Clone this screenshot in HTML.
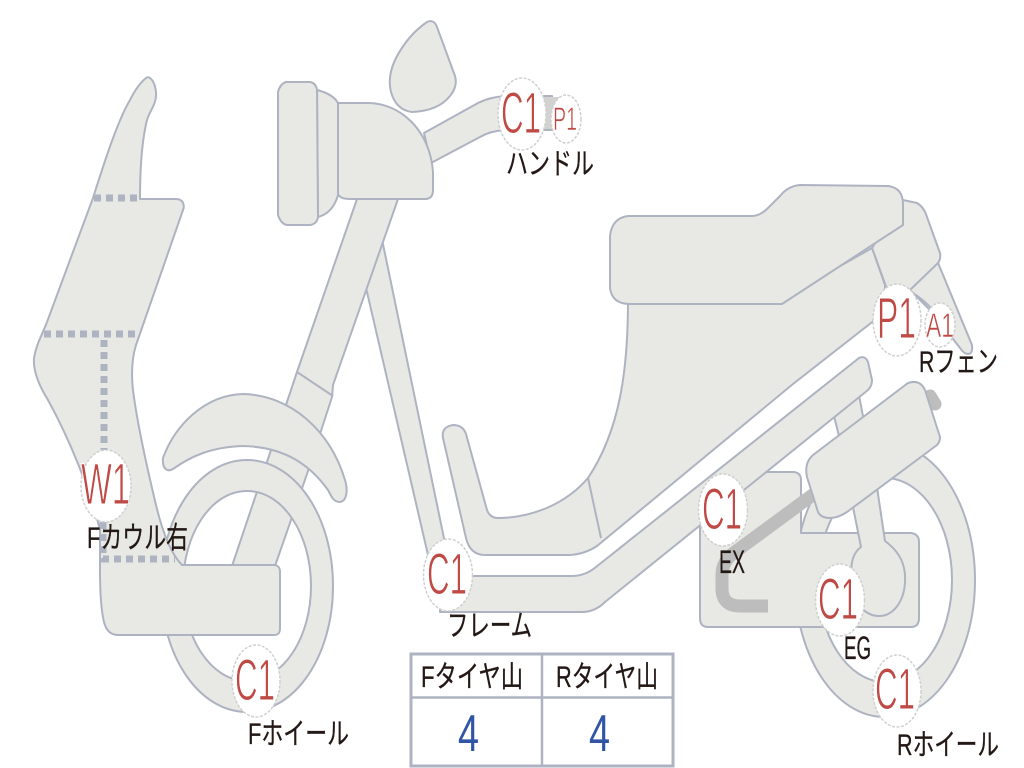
<!DOCTYPE html>
<html><head><meta charset="utf-8"><style>
html,body{margin:0;padding:0;background:#fff;width:1024px;height:768px;overflow:hidden}
svg{display:block}
.s{fill:#e8e9e4;stroke:#aeb3c2;stroke-width:2;stroke-linejoin:round}
.l{fill:none;stroke:#aeb3c2;stroke-width:2}
.d{fill:none;stroke:#aeb3c2;stroke-width:7;stroke-dasharray:7 5}
.c{fill:#fff;stroke:#cfd0d0;stroke-width:1.5;stroke-dasharray:3 1.5}
.r{font-family:"Liberation Sans",sans-serif;fill:#bf4a45;stroke:#fff;stroke-width:1}
.k{font-family:"Liberation Sans","Noto Sans CJK JP",sans-serif;fill:#231815;font-size:30px;stroke:#231815;stroke-width:.3}
.b{font-family:"Liberation Sans",sans-serif;fill:#2f55a4;font-size:52px}
</style></head><body>
<svg width="1024" height="768" viewBox="0 0 1024 768" xmlns="http://www.w3.org/2000/svg">
<!-- mirror -->
<path class="s" d="M427 22Q434 19 437 27L455 76Q458 86 450 96Q438 111 412 112Q396 110 391 92Q387 76 396 58Q408 35 427 22Z"/>
<!-- handlebar -->
<path class="s" d="M424 133L478 103Q490 97 505 96L552 96L552 130L505 130Q490 131 480 137L431 163Z"/>
<rect x="540" y="97" width="20" height="32" fill="#d2d3d0"/>
<!-- frame down tube -->
<path class="s" d="M378 220L446 548L470 576L430 576L428 555L367 292L357 250Z"/>
<!-- front fork -->
<path class="s" d="M357 199L398 199L333 385L332 397L307 474L275 566L232 566L268 459L293 384L297 372Z"/>
<path class="l" d="M297 372L333 396"/>
<!-- front wheel -->
<path class="s" fill-rule="evenodd" d="M247 460C295 460 333 516 333 586C333 656 295 712 247 712C199 712 161 656 161 586C161 516 199 460 247 460ZM247 491C211 491 183 534 183 586C183 638 211 681 247 681C283 681 311 638 311 586C311 534 283 491 247 491Z"/>
<!-- fender -->
<path class="s" d="M163 458C175 425 205 395 243 394C290 395 330 430 345 480C348 490 347 501 340 502C334 502 332 498 328 490C310 465 285 447 243 446C210 447 190 457 173 469C168 472 162 470 163 458Z"/>
<!-- front cowl -->
<path class="s" d="M146 78C150 75 155 82 156 92C157 104 150 110 147 120C142 140 140 170 140 199L176 199C183 199 185 205 183 210L136 345C132 358 131 372 133 390C138 430 150 480 156 505C162 530 170 553 182 565L274 565C278 565 280 568 280 572L280 628C280 633 278 635 274 635L118 635C110 635 106 630 104 622C101 610 100 595 100 570L100 530C90 490 70 440 48 400C38 384 33 370 34 358C36 345 42 335 47 322L93 198C105 160 118 120 130 100C135 90 141 82 146 78Z"/>
<path class="d" d="M94 198L140 198"/>
<path class="d" d="M44 334L138 334"/>
<path class="d" d="M104 340L104 450"/>
<path class="d" d="M103 522L103 559L175 559"/>
<!-- headlight -->
<path class="s" d="M317 90Q333 94 338 103L338 195Q333 213 318 217Z"/>
<path class="s" d="M286 82L310 82Q316 83 317 90L318 217Q317 224 310 225L287 225Q281 224 278 215L278 92Q280 84 286 82Z"/>
<path class="s" d="M338 103L368 103C400 103 430 130 433 172L433 190Q433 199 425 199L350 199Q340 199 338 194Z"/>
<!-- rear wheel -->
<path class="s" fill-rule="evenodd" d="M885 443C935 443 975 504 975 580C975 656 935 717 885 717C835 717 795 656 795 580C795 504 835 443 885 443ZM885 478C848 478 818 524 818 580C818 636 848 682 885 682C922 682 952 636 952 580C952 524 922 478 885 478Z"/>
<!-- rear fender & rear cowl -->
<path class="s" d="M936 258L972 345Q973 354 968 354Q964 354 960 348L932 312L905 285Z"/>
<path class="s" d="M903 200L917 203Q924 207 927 217L940 253Q941 259 938 263L910 290L888 292L872 248Z"/>
<path class="l" d="M909 291Q920 296 935 312"/>
<!-- body -->
<path class="s" d="M628 300C628 370 620 430 588 478C565 505 530 518 498 518Q490 518 487 510L466 434Q463 425 453 425Q441 427 443 438L466 538Q470 555 485 555L570 555Q585 554 597 546L793 384L885 312L885 285L872 248L780 300Z"/>
<path class="l" d="M588 478L601 538"/>
<!-- seat -->
<path class="s" d="M628 216L752 216Q760 216 768 208L780 196Q788 186 800 185L888 186Q903 188 903 204L903 225L782 304L630 304Q612 304 610 288L610 236Q612 218 628 216Z"/>
<!-- shock upper -->
<path class="s" d="M832 408L858 390L866 432L842 448Z"/>
<!-- engine -->
<path class="s" d="M740 472L794 472Q801 473 801 480L801 533L911 533Q919 534 919 542L919 618Q919 627 911 627L708 627Q700 627 700 618L700 500Z"/>
<!-- frame tube -->
<path class="s" d="M440 576L572 576Q585 576 596 567L859 358Q865 355 868 362L872 380Q872 386 868 390L605 602Q595 612 582 612L440 612Z"/>
<!-- shock lower -->
<path class="s" d="M850 492L875 474L885 541C900 552 906 565 905 582C904 602 893 616 879 616C866 616 856 605 853 590C850 570 850 555 861 547Z"/>
<!-- exhaust -->
<path d="M822 488L735 552Q722 561 722 575L722 590Q723 606 740 606L768 606" fill="none" stroke="#bcbdbc" stroke-width="13"/>
<!-- muffler -->
<path d="M930 396L935 404" fill="none" stroke="#bcbdbc" stroke-width="13" stroke-linecap="round"/>
<path class="s" d="M813 455L908 383Q920 379 925 390L940 437Q940 442 937 445L847 512Q838 518 830 518Q821 518 818 512L807 477Q804 463 813 455Z"/>
<!-- table -->
<rect x="411" y="654" width="262" height="112" fill="#fff" stroke="#aeb3c2" stroke-width="3"/>
<path d="M411 697.5L673 697.5M542 654L542 766" stroke="#aeb3c2" stroke-width="2.5" fill="none"/>
<!-- badges -->
<ellipse class="c" cx="522" cy="114" rx="24" ry="36"/>
<ellipse class="c" cx="566" cy="119" rx="15" ry="24"/>
<ellipse class="c" cx="897" cy="320" rx="24" ry="36"/>
<ellipse class="c" cx="940" cy="325" rx="15" ry="22"/>
<ellipse class="c" cx="106" cy="486" rx="25" ry="36"/>
<ellipse class="c" cx="256" cy="681" rx="24" ry="36"/>
<ellipse class="c" cx="448" cy="575" rx="24.5" ry="36"/>
<ellipse class="c" cx="723" cy="510" rx="24.5" ry="36"/>
<ellipse class="c" cx="840" cy="600" rx="24.5" ry="36"/>
<ellipse class="c" cx="897" cy="691" rx="24" ry="36"/>
<!-- badge text -->
<g class="r" font-size="58">
<text x="501" y="133" textLength="40" lengthAdjust="spacingAndGlyphs">C1</text>
<text x="877" y="338" textLength="39" lengthAdjust="spacingAndGlyphs">P1</text>
<text x="81" y="504" textLength="49" lengthAdjust="spacingAndGlyphs">W1</text>
<text x="235" y="700" textLength="40" lengthAdjust="spacingAndGlyphs">C1</text>
<text x="427" y="594" textLength="40" lengthAdjust="spacingAndGlyphs">C1</text>
<text x="702" y="529" textLength="40" lengthAdjust="spacingAndGlyphs">C1</text>
<text x="818" y="619" textLength="40" lengthAdjust="spacingAndGlyphs">C1</text>
<text x="875" y="709" textLength="40" lengthAdjust="spacingAndGlyphs">C1</text>
</g>
<text class="r" font-size="32" x="553" y="130" textLength="24" lengthAdjust="spacingAndGlyphs" style="stroke-width:.6">P1</text>
<text class="r" font-size="34" x="926" y="337" textLength="28" lengthAdjust="spacingAndGlyphs" style="stroke-width:.6">A1</text>
<!-- labels -->
<text class="k" x="506" y="174" textLength="88" lengthAdjust="spacingAndGlyphs">ハンドル</text>
<text class="k" x="919" y="372" textLength="79" lengthAdjust="spacingAndGlyphs">Rフェン</text>
<text class="k" x="87" y="548" textLength="101" lengthAdjust="spacingAndGlyphs">Fカウル右</text>
<text class="k" style="font-size:32px" x="719" y="573" textLength="26" lengthAdjust="spacingAndGlyphs">EX</text>
<text class="k" style="font-size:32px" x="844" y="659" textLength="27" lengthAdjust="spacingAndGlyphs">EG</text>
<text class="k" x="447" y="636" textLength="85" lengthAdjust="spacingAndGlyphs">フレーム</text>
<text class="k" x="248" y="744" textLength="101" lengthAdjust="spacingAndGlyphs">Fホイール</text>
<text class="k" x="897" y="755" textLength="102" lengthAdjust="spacingAndGlyphs">Rホイール</text>
<text class="k" x="421" y="687" textLength="102" lengthAdjust="spacingAndGlyphs">Fタイヤ山</text>
<text class="k" x="556" y="687" textLength="102" lengthAdjust="spacingAndGlyphs">Rタイヤ山</text>
<text class="b" x="458" y="751" textLength="21" lengthAdjust="spacingAndGlyphs">4</text>
<text class="b" x="589" y="751" textLength="21" lengthAdjust="spacingAndGlyphs">4</text>
</svg>
</body></html>
